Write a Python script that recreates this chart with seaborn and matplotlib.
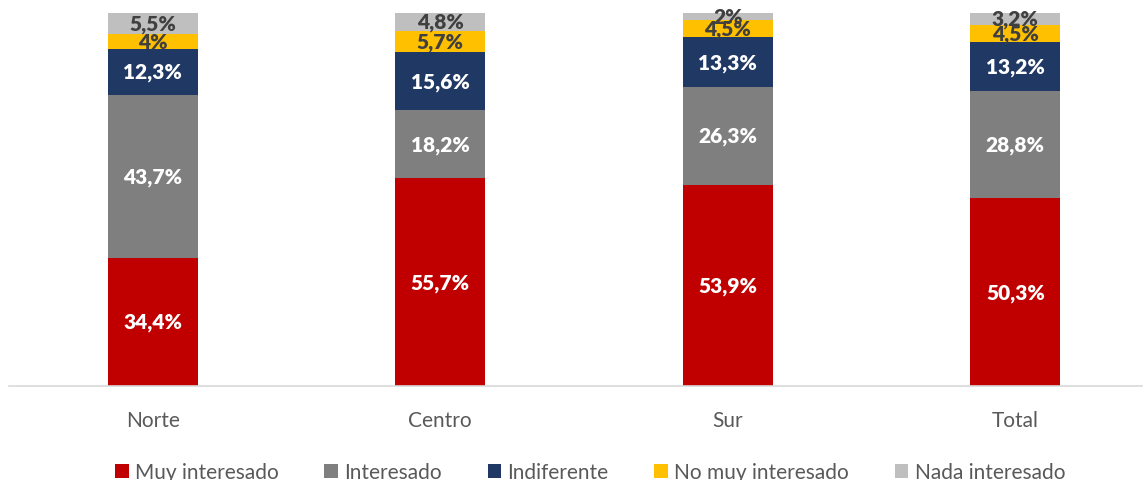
import matplotlib
matplotlib.use("Agg")
import matplotlib.pyplot as plt
import numpy as np
import pandas as pd
import seaborn as sns
from matplotlib.patches import Patch

regions = ["Norte", "Centro", "Sur", "Total"]
levels = ["Muy interesado", "Interesado", "Indiferente", "No muy interesado", "Nada interesado"]

muy_interesado = [34.4, 55.7, 53.9, 50.3]
interesado = [43.7, 18.2, 26.3, 28.8]
indiferente = [12.3, 15.6, 13.3, 13.2]
no_muy_interesado = [4.0, 5.7, 4.5, 4.5]
nada_interesado = [5.5, 4.8, 2.0, 3.2]

label_text = [
    ["34,4%", "55,7%", "53,9%", "50,3%"],
    ["43,7%", "18,2%", "26,3%", "28,8%"],
    ["12,3%", "15,6%", "13,3%", "13,2%"],
    ["4%", "5,7%", "4,5%", "4,5%"],
    ["5,5%", "4,8%", "2%", "3,2%"],
]

COLORS = ["#C00000", "#7F7F7F", "#1F3864", "#FFC000", "#BFBFBF"]
LABEL_COLORS = ["white", "white", "white", "#404040", "#404040"]

sns.set_theme(style="white")
plt.rcParams["font.family"] = ["Lato", "DejaVu Sans"]

values = np.array([muy_interesado, interesado, indiferente, no_muy_interesado, nada_interesado])
cumulative = values.cumsum(axis=0)

fig = plt.figure(figsize=(11.43, 4.81), dpi=100)
ax = fig.add_axes([9 / 1143, 94 / 481, 1134 / 1143, 373 / 481])

# draw tallest stack first, shorter cumulative bars cover it
for i in reversed(range(len(levels))):
    frame = pd.DataFrame({"region": regions, "value": cumulative[i]})
    sns.barplot(
        data=frame,
        x="region",
        y="value",
        color=COLORS[i],
        saturation=1,
        width=0.313,
        ax=ax,
        linewidth=0,
    )

for i in range(len(levels)):
    bottoms = cumulative[i] - values[i]
    for j in range(len(regions)):
        ax.text(
            j,
            bottoms[j] + values[i][j] / 2,
            label_text[i][j],
            ha="center",
            va="center",
            color=LABEL_COLORS[i],
            fontsize=15,
            fontweight="heavy",
        )

ax.set_xlim(-0.5, 3.444)
ax.set_ylim(0, 100)
ax.set_xlabel("")
ax.set_ylabel("")
ax.set_yticks([])
ax.tick_params(axis="x", length=0, pad=17, labelsize=15, labelcolor="#595959")
for side in ["top", "left", "right"]:
    ax.spines[side].set_visible(False)
ax.spines["bottom"].set_color("#D9D9D9")
ax.spines["bottom"].set_linewidth(1.2)

handles = [Patch(facecolor=c, edgecolor="none") for c in COLORS]
fig.legend(
    handles,
    levels,
    loc="center",
    bbox_to_anchor=(590 / 1143, 8 / 481),
    ncol=5,
    frameon=False,
    fontsize=15,
    labelcolor="#595959",
    handlelength=0.65,
    handleheight=0.65,
    handletextpad=0.3,
    columnspacing=2.2,
)

fig.savefig("out.png", dpi=100)
